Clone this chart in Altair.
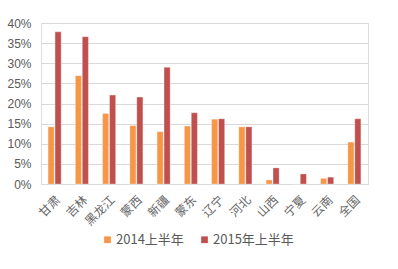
import altair as alt
import pandas as pd

regions = ["甘肃", "吉林", "黑龙江", "蒙西", "新疆", "蒙东", "辽宁", "河北", "山西", "宁夏", "云南", "全国"]
h1_2014 = [14.2, 26.9, 17.5, 14.5, 13.0, 14.4, 16.1, 14.2, 1.0, 0.0, 1.4, 10.4]
h1_2015 = [37.8, 36.6, 22.1, 21.6, 29.0, 17.7, 16.2, 14.2, 4.0, 2.5, 1.7, 16.2]
series_names = ["2014上半年", "2015年上半年"]
colors = ["#F79646", "#C0504D"]

rows = []
for i, r in enumerate(regions):
    rows.append({"region": r, "series": series_names[0], "value": h1_2014[i] / 100})
    rows.append({"region": r, "series": series_names[1], "value": h1_2015[i] / 100})
df = pd.DataFrame(rows)

font = "Noto Sans CJK SC"

chart = alt.Chart(df).mark_bar(stroke="white", strokeWidth=0.5, strokeOpacity=0.6).encode(
    x=alt.X("region:N", sort=regions,
            scale=alt.Scale(paddingInner=0.52, paddingOuter=0.26),
            axis=alt.Axis(title=None, labelAngle=-45, labelFontSize=12, labelColor="#666666",
                          labelFont=font, ticks=False, domainColor="#D9D9D9", labelPadding=10)),
    xOffset=alt.XOffset("series:N", sort=series_names, scale=alt.Scale(paddingInner=0.12)),
    y=alt.Y("value:Q", scale=alt.Scale(domain=[0, 0.4], nice=False),
            axis=alt.Axis(title=None, format=".0%", values=[i * 0.05 for i in range(9)],
                          labelFontSize=12, labelColor="#595959", labelFont="Liberation Sans",
                          ticks=False, domain=False, gridColor="#D9D9D9", labelPadding=10)),
    color=alt.Color("series:N", sort=series_names,
                    scale=alt.Scale(domain=series_names, range=colors),
                    legend=alt.Legend(title=None, orient="none", direction="horizontal",
                                      legendX=60, legendY=210, symbolType="square", symbolSize=45,
                                      labelFontSize=13, labelColor="#595959", labelFont=font,
                                      columnPadding=14, labelOffset=2, symbolStrokeWidth=0)),
).properties(
    width=327, height=161,
    autosize=alt.AutoSizeParams(type="none"),
    padding={"left": 41, "top": 23, "right": 30, "bottom": 85},
).configure_view(stroke=None).configure(background="white")

chart.save("out.html", embed_options={"renderer": "svg", "actions": False})
